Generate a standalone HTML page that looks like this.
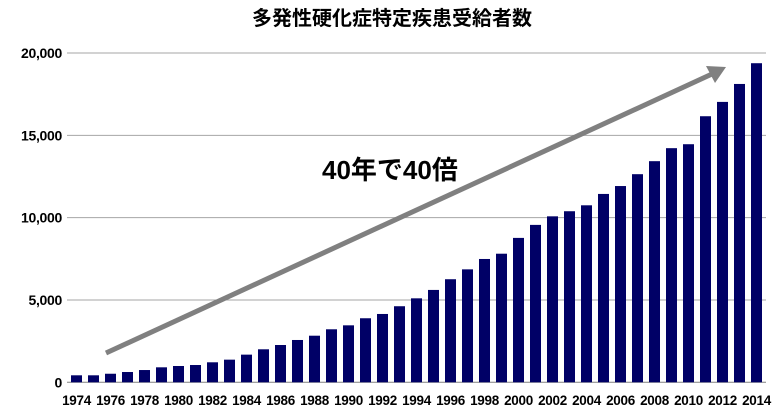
<!DOCTYPE html>
<html><head><meta charset="utf-8"><style>
body{margin:0;background:#fff;}
svg{display:block;font-family:"Liberation Sans","Noto Sans CJK JP",sans-serif;}
</style></head><body>
<svg id="chart" width="780" height="415" viewBox="0 0 780 415">
<text x="392" y="25" text-anchor="middle" font-size="20" font-weight="bold" fill="#000">多発性硬化症特定疾患受給者数</text>
<g id="grid"></g>
<g id="bars"></g>
<g id="xlabels"></g>
<g id="ylabels"></g>
<line x1="106" y1="353" x2="712" y2="74" stroke="#808080" stroke-width="5"/>
<polygon points="726,67 706,66 715,83" fill="#808080"/>
<text x="322" y="179" font-size="26" font-weight="bold" fill="#000">40年で40倍</text>
</svg>
<script>
const years=[1974,1975,1976,1977,1978,1979,1980,1981,1982,1983,1984,1985,1986,1987,1988,1989,1990,1991,1992,1993,1994,1995,1996,1997,1998,1999,2000,2001,2002,2003,2004,2005,2006,2007,2008,2009,2010,2011,2012,2013,2014];
const patients=[425,425,520,625,745,910,990,1050,1215,1375,1680,2005,2265,2570,2830,3220,3460,3890,4150,4620,5100,5610,6260,6860,7490,7810,8770,9560,10080,10390,10750,11440,11920,12640,13430,14220,14460,16160,17030,18120,19380];
const yTicks=[0,5000,10000,15000,20000];
const yTickLabels=["0","5,000","10,000","15,000","20,000"];
const NS="http://www.w3.org/2000/svg";
const y0=382.3,yTop=53,yMax=20000,x0=76.5,step=17,bw=11;
function yScale(v){return y0-(v/yMax)*(y0-yTop);}
function xScale(i){return x0+i*step;}
function mk(tag,attrs,parent){const e=document.createElementNS(NS,tag);for(const k in attrs)e.setAttribute(k,attrs[k]);document.getElementById(parent).appendChild(e);return e;}
yTicks.forEach((t,i)=>{
  const l=mk('line',{x1:67,x2:766,y1:yScale(t),y2:yScale(t),stroke:i===0?'#808080':'#a6a6a6','stroke-width':1},'grid');
  
  
  const tx=mk('text',{x:62,y:yScale(t)+5,'text-anchor':'end','font-size':14,'font-weight':'bold','letter-spacing':'-0.3'},'ylabels');
  tx.textContent=yTickLabels[i];
  
  
});
patients.forEach((v,i)=>{
  const r=mk('rect',{x:xScale(i)-bw/2,y:yScale(v),width:bw,height:y0-yScale(v),fill:'#000066'},'bars');
  
  
  if(i%2===0){
    const tx=mk('text',{x:xScale(i),y:405,'text-anchor':'middle','font-size':13.5,'font-weight':'bold','letter-spacing':'-0.3'},'xlabels');
    tx.textContent=years[i];
    
    
  }
});
</script>
</body></html>
